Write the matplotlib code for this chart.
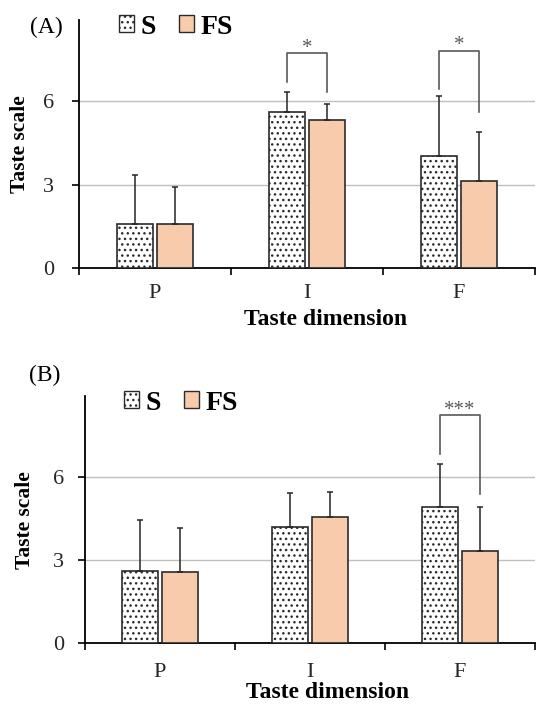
import numpy as np
import matplotlib
matplotlib.use("Agg")
import matplotlib.pyplot as plt
from matplotlib.patches import Patch

plt.rcParams["font.family"] = ["Liberation Serif", "DejaVu Serif"]
plt.rcParams["hatch.linewidth"] = 1.0

dims = ["P", "I", "F"]

# panel A
a_s = [1.60, 5.62, 4.03]
a_s_err = [1.76, 0.69, 2.13]
a_fs = [1.60, 5.32, 3.13]
a_fs_err = [1.33, 0.58, 1.74]
a_sig = [(1, 7.70, 6.68, 6.33, "*"), (2, 7.79, 6.44, 5.62, "*")]

# panel B
b_s = [2.61, 4.18, 4.92]
b_s_err = [1.82, 1.22, 1.54]
b_fs = [2.58, 4.54, 3.31]
b_fs_err = [1.56, 0.90, 1.61]
b_sig = [(2, 8.20, 6.81, 5.37, "***")]

fs_color = "#F8CBAD"
edge = "#2b2b2b"
width = 0.237
off = 0.132

fig = plt.figure(figsize=(5.36, 7.07), dpi=100)
W, H = 536, 707


def px_axes(l, r, b, t):
    return fig.add_axes([l / W, 1 - b / H, (r - l) / W, (b - t) / H])


def panel(ax, s, s_err, f, f_err, sig, tag, tag_xy, leg_xy, ylab_x, xlab_y, xpad, ypad):
    x = np.arange(len(dims))
    ax.bar(x - off, s, width, color="white", edgecolor=edge, hatch="...", lw=1.2, zorder=3)
    ax.bar(x + off, f, width, color=fs_color, edgecolor=edge, lw=1.2, zorder=3)
    ax.errorbar(x - off, s, yerr=[np.zeros(3), s_err], fmt="none", ecolor="#262626",
                elinewidth=1.1, capsize=2.5, capthick=1.1, zorder=4)
    ax.errorbar(x + off, f, yerr=[np.zeros(3), f_err], fmt="none", ecolor="#262626",
                elinewidth=1.1, capsize=2.5, capthick=1.1, zorder=4)
    for i, top, yl, yr, stars in sig:
        ax.plot([i - off, i - off, i + off, i + off], [yl, top, top, yr],
                color="#595959", lw=1.2, zorder=4)
        ax.text(i, top + 0.02, stars, ha="center", va="baseline", fontsize=15,
                color="#595959")

    ax.set_xlim(-0.5, 2.5)
    ax.set_ylim(0, 8.9)
    ax.set_yticks([0, 3, 6])
    ax.grid(axis="y", color="#bfbfbf", lw=1.0, zorder=0)
    ax.set_axisbelow(True)
    for sp in ["top", "right"]:
        ax.spines[sp].set_visible(False)
    ax.spines["left"].set_linewidth(1.3)
    ax.spines["bottom"].set_linewidth(1.3)

    ax.set_xticks([-0.5, 0.5, 1.5, 2.5])
    ax.set_xticklabels([])
    ax.set_xticks(x, minor=True)
    ax.set_xticklabels(dims, minor=True, fontsize=16)
    ax.tick_params(axis="x", which="major", direction="out", length=5, width=1.2)
    ax.tick_params(axis="x", which="minor", length=0, pad=xpad, colors="#262626")
    ax.tick_params(axis="y", direction="out", length=5, width=1.2, pad=ypad,
                   labelsize=16, labelcolor="#262626")

    ax.set_ylabel("Taste scale", fontsize=15.5, fontweight="bold")
    ax.yaxis.set_label_coords(ylab_x, 0.5)
    ax.set_xlabel("Taste dimension", fontsize=17, fontweight="bold")
    ax.xaxis.set_label_coords(0.54, xlab_y)

    fig.text(tag_xy[0] / W, 1 - tag_xy[1] / H, tag, fontsize=17, ha="center", va="center")

    handles = [Patch(facecolor="white", edgecolor=edge, hatch="...", lw=1.0, label="S"),
               Patch(facecolor=fs_color, edgecolor=edge, lw=1.0, label="FS")]
    ax.legend(handles=handles, ncol=2, frameon=False, loc="center left",
              bbox_to_anchor=(leg_xy[0] / W, 1 - leg_xy[1] / H), bbox_transform=fig.transFigure,
              borderpad=0, borderaxespad=0, handlelength=0.54, handleheight=0.54,
              handletextpad=0.25, columnspacing=0.8,
              prop={"size": 20, "weight": "bold"})


ax_a = px_axes(79, 535, 268.3, 20)
panel(ax_a, a_s, a_s_err, a_fs, a_fs_err, a_sig, "(A)", (46, 27), (119, 27),
      -0.107, -0.165, 11, 13)

ax_b = px_axes(85, 535, 643.3, 396)
panel(ax_b, b_s, b_s_err, b_fs, b_fs_err, b_sig, "(B)", (45, 375), (124, 403),
      -0.111, -0.155, 14, 10)

fig.savefig("out.png", dpi=100)
